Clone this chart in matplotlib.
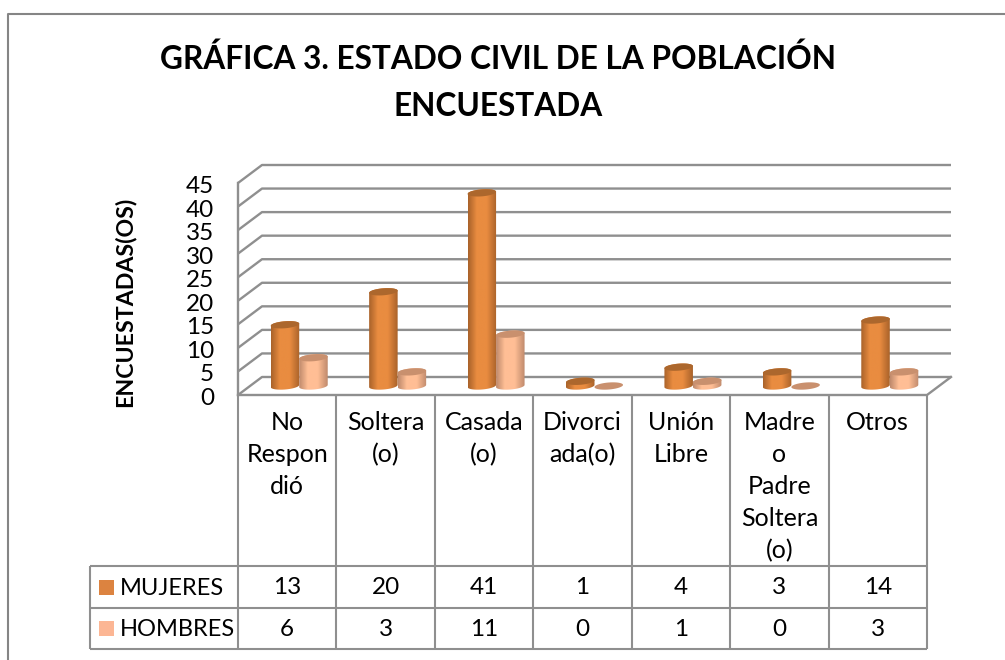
import numpy as np
import matplotlib
matplotlib.use("Agg")
import matplotlib.pyplot as plt
from matplotlib.patches import Polygon, Rectangle

categories = ["No\nRespon\ndió", "Soltera\n(o)", "Casada\n(o)", "Divorci\nada(o)", "Unión\nLibre",
              "Madre\no\nPadre\nSoltera\n(o)", "Otros"]
mujeres = [13, 20, 41, 1, 4, 3, 14]
hombres = [6, 3, 11, 0, 1, 0, 3]
series_names = ["MUJERES", "HOMBRES"]
yticks = [0, 5, 10, 15, 20, 25, 30, 35, 40, 45]
title_lines = ["GRÁFICA 3. ESTADO CIVIL DE LA POBLACIÓN", "ENCUESTADA"]
ylabel = "ENCUESTADAS(OS)"

W, H = 1005, 660
plt.rcParams['font.family'] = ['Lato', 'DejaVu Sans']
fig = plt.figure(figsize=(W/100, H/100), dpi=100)

L, R, B, T = 238, 927, 395, 183
ax = fig.add_axes([L/W, 1-B/H, (R-L)/W, (B-T)/H])
ax.set_xlim(0, len(categories))
ax.set_ylim(0, 45)
ax.axis('off')
px = (R-L)/len(categories)
py = (B-T)/45
DX, DY = 24/px, 18/py
GRID = '#8f8f8f'

fig_ax = fig.add_axes([0, 0, 1, 1], zorder=-1)
fig_ax.set_xlim(0, W); fig_ax.set_ylim(H, 0); fig_ax.axis('off')
fig_ax.plot([8, 8, W+5], [H+5, 14, 14], color='#858585', lw=1.5)

for v in yticks:
    ax.plot([0, DX, DX+len(categories)], [v, v+DY, v+DY], color=GRID, lw=1.7, clip_on=False, zorder=1, solid_capstyle='butt')
    ax.text(-24/px, v - 3.5/py, str(v), ha='right', va='center', fontsize=17.5, color='black', clip_on=False)
ax.plot([0, 0], [0, 45], color=GRID, lw=1.7, clip_on=False, zorder=1)
ax.plot([0, len(categories), len(categories)+DX], [0, 0, DY], color=GRID, lw=1.7, clip_on=False, zorder=1)

def cylinder(xc, v, edge, mid, top, z):
    bw = 28.5 / px
    a = bw / 2
    rh = 3.5 / py
    tilt = 1.1 / py
    t = np.linspace(0, 2*np.pi, 80)
    ex = a*np.cos(t)
    ey = rh*np.sin(t) + tilt*np.cos(t)
    y0 = DY/2
    x0 = xc + DX/2
    vy = y0 + v
    ang = np.linspace(np.pi, 2*np.pi, 40)
    bx = x0 + a*np.cos(ang); by = y0 + rh*np.sin(ang) + tilt*np.cos(ang)
    ang2 = np.linspace(0, np.pi, 40)
    ux = x0 + a*np.cos(ang2); uy = vy + rh*np.sin(ang2) + tilt*np.cos(ang2)
    body = Polygon(np.c_[np.r_[bx, ux], np.r_[by, uy]], closed=True, fc='none', ec='none', transform=ax.transData)
    ax.add_patch(body)
    if v > 0:
        g = np.linspace(0, 1, 64)[None, :]
        cmap = matplotlib.colors.LinearSegmentedColormap.from_list('c', [(0, edge), (0.3, mid), (0.65, mid), (1, edge)])
        im = ax.imshow(g, extent=[x0-a, x0+a, y0-2*rh-tilt, vy+2*rh+tilt], aspect='auto', cmap=cmap, zorder=z, clip_on=True)
        im.set_clip_path(body)
    ax.add_patch(Polygon(np.c_[x0+ex, vy+ey], closed=True, fc=top, ec='none', zorder=z+0.1, clip_on=False))

for i, (m, h) in enumerate(zip(mujeres, hombres)):
    c = i + 0.5
    off = 14.25 / px
    cylinder(c - off, m, '#a9622a', '#e98c40', '#ac672d', 3 + i*0.01)
    cylinder(c + off, h, '#bf8a6c', '#ffbe95', '#c9906e', 4 + i*0.01)
ax.set_xlim(0, len(categories)); ax.set_ylim(0, 45)

T1, T2, T3 = 566, 608, 649
TL = 90
n = len(categories)
xs = L + px*np.arange(n+1)
fig_ax.set_zorder(5); fig_ax.patch.set_alpha(0)
for x in xs:
    fig_ax.plot([x, x], [395, T3], color=GRID, lw=1.5, solid_capstyle='butt')
for y in (T1, T2, T3):
    fig_ax.plot([TL, R], [y, y], color=GRID, lw=1.5, solid_capstyle='butt')
fig_ax.plot([TL, TL], [T1, T3], color=GRID, lw=1.5, solid_capstyle='butt')

for i, c in enumerate(categories):
    xc = L + px*(i+0.5)
    for j, line in enumerate(c.split('\n')):
        fig_ax.text(xc, 423 + j*32, line, ha='center', va='center', fontsize=18, color='black')
    fig_ax.text(xc, 588, str(mujeres[i]), ha='center', va='center', fontsize=17.5, color='black')
    fig_ax.text(xc, 629.5, str(hombres[i]), ha='center', va='center', fontsize=17.5, color='black')

for (y, name, col) in ((587, series_names[0], '#dc8340'), (628, series_names[1], '#fcb694')):
    fig_ax.add_patch(Rectangle((99, y-7.5), 15, 15, fc=col, ec='none'))
    fig_ax.text(120, y+1.5, name, ha='left', va='center', fontsize=17, color='black')

for line, y in zip(title_lines, (59, 106)):
    fig_ax.text(498, y, line, ha='center', va='center', fontsize=22.8, fontweight='bold', color='black')
fig_ax.text(125, 302, ylabel, rotation=90, ha='center', va='center', fontsize=16.7, fontweight='bold', color='black')

fig.savefig('out.png', dpi=100)
